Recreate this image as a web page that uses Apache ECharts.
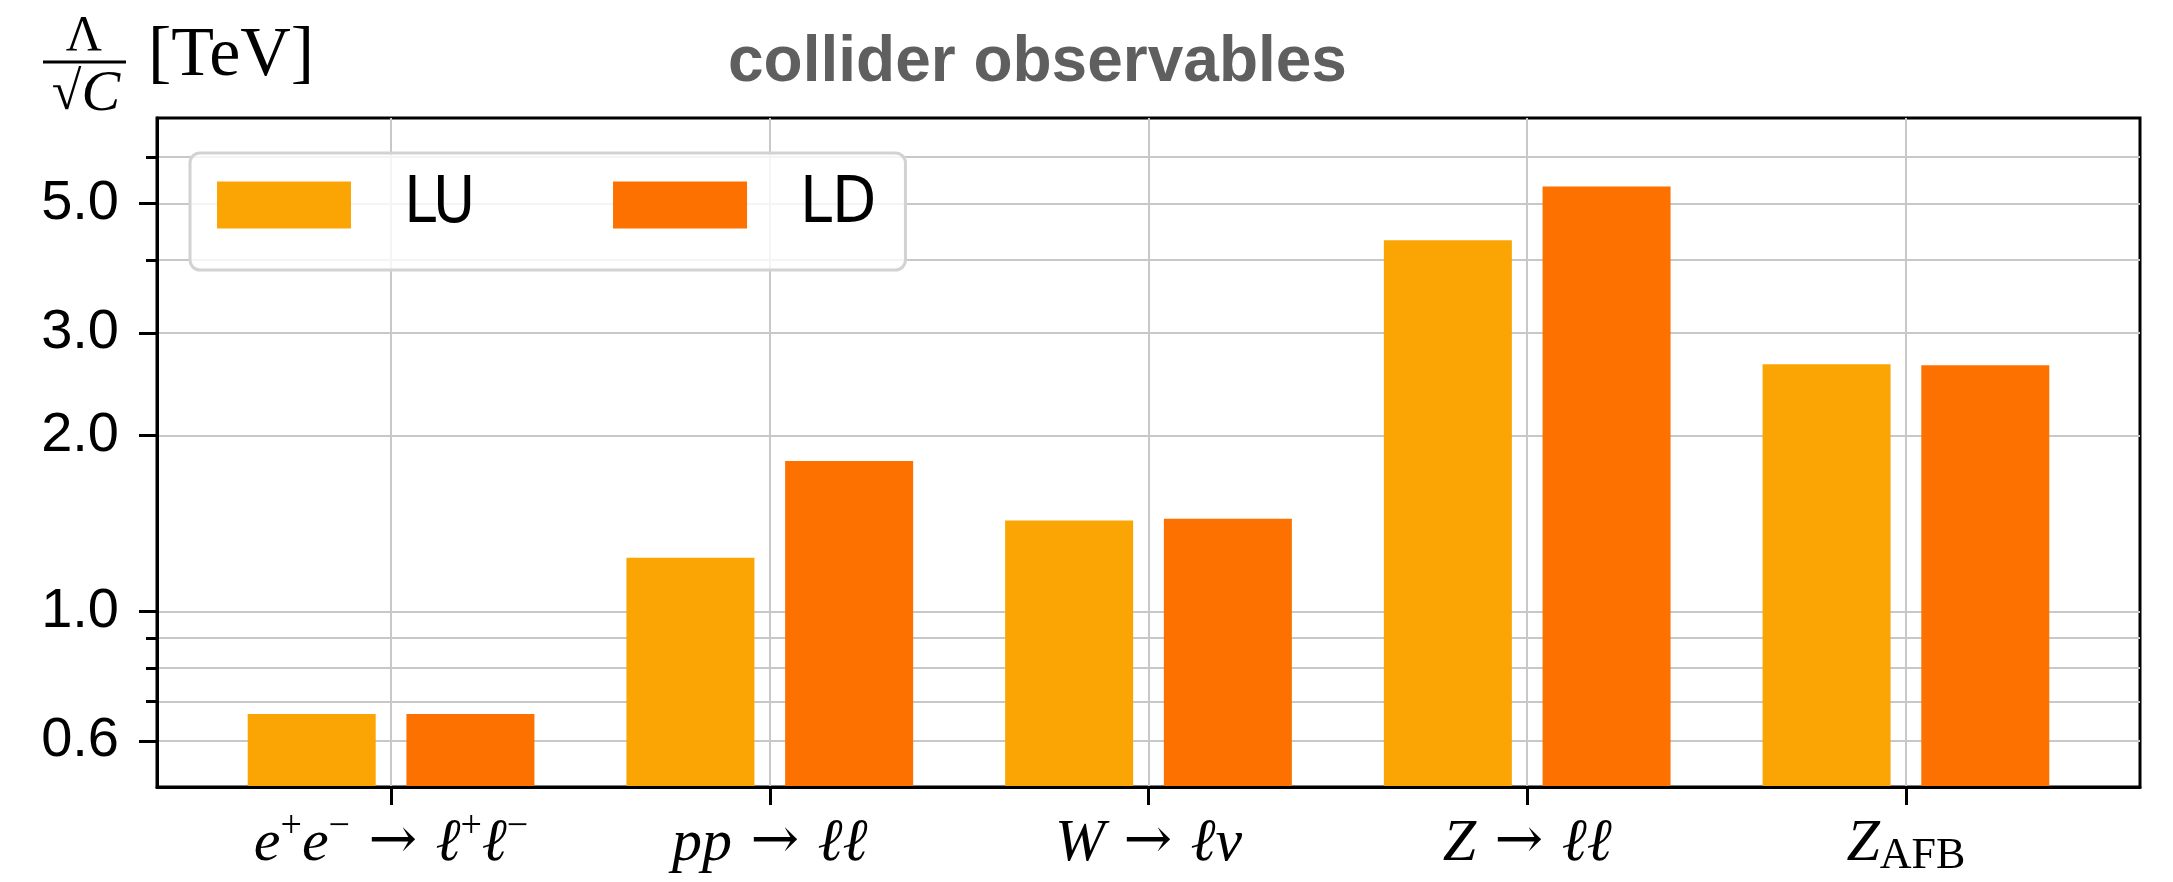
<!DOCTYPE html>
<html><head><meta charset="utf-8">
<script src="https://cdn.jsdelivr.net/npm/echarts@6/dist/echarts.min.js"></script>
<style>html,body{margin:0;padding:0;background:#fff}#c{width:2173px;height:882px}</style>
</head><body><div id="c"></div>
<script>
// ---- data ----
const categories = ['ee_ll', 'pp_ll', 'W_lnu', 'Z_ll', 'Z_AFB'];
const xTickLabels = [
  '{m|e}{s|+}{m|e}{s|−}{r| → }{m|ℓ}{s|+}{m|ℓ}{s|−}',
  '{m|pp}{r| → }{m|ℓℓ}',
  '{m|W}{r| → }{m|ℓν}',
  '{m|Z}{r| → }{m|ℓℓ}',
  '{m|Z}{b|AFB}'
];
const seriesNames = ['LU', 'LD'];
const luValues = [0.667, 1.235, 1.43, 4.32, 2.65];
const ldValues = [0.667, 1.81, 1.44, 5.34, 2.64];
const yMin = 0.5, yMax = 7.0;
const majorTicks = [0.6, 1, 2, 3, 5];
const gridValues = [0.6, 0.7, 0.8, 0.9, 1, 2, 3, 4, 5, 6];
const titleText = 'collider observables';

// ---- styles ----
const colors = ['#fba504', '#fc7100'];
const serif = '"Liberation Serif","DejaVu Serif",serif';
const sans = '"Liberation Sans","Helvetica",Arial,sans-serif';
const gridColor = '#c8c8c8';

const chart = echarts.init(document.getElementById('c'), null, {renderer: 'canvas'});

const option = {
  animation: false,
  backgroundColor: '#ffffff',
  title: {
    text: titleText, left: 728, top: 31, padding: 0,
    textStyle: {fontFamily: sans, fontWeight: 'bold', fontSize: 64, lineHeight: 64, color: '#5f5f5f'}
  },
  legend: {
    data: seriesNames, left: 190, top: 153, orient: 'horizontal',
    selectedMode: false, icon: 'rect', itemWidth: 134, itemHeight: 47, itemGap: 138,
    padding: [20, 29, 33, 27],
    backgroundColor: 'rgba(255,255,255,0.8)', borderColor: '#d2d2d2', borderWidth: 3, borderRadius: 10,
    textStyle: {fontFamily: '"Liberation Sans Narrow","DejaVu Sans Condensed","Liberation Sans",sans-serif',
      fontSize: 64, lineHeight: 60, color: '#000', padding: [0, 0, 0, 48]}
  },
  grid: [
    {left: 157, right: 33, top: 118, bottom: 95, show: true, borderColor: '#000', borderWidth: 3, backgroundColor: 'transparent'},
    {left: 201.7, right: 77.7, top: 118, bottom: 95}
  ],
  xAxis: [
    {gridIndex: 0, type: 'value', min: 0, max: 1, z: 5,
      axisLine: {show: true, lineStyle: {color: '#000', width: 3}},
      axisTick: {show: false}, axisLabel: {show: false}, splitLine: {show: false}},
    {gridIndex: 1, type: 'category', data: categories, boundaryGap: true,
      axisLine: {show: false},
      axisTick: {show: true, alignWithLabel: true, length: 18, lineStyle: {color: '#000', width: 3}},
      axisLabel: {
        margin: 21, color: '#000', interval: 0,
        formatter: (v, i) => xTickLabels[i],
        rich: {
          m: {fontFamily: serif, fontStyle: 'italic', fontSize: 60, lineHeight: 62, verticalAlign: 'top', padding: [6, 0, 0, 0], color: '#000'},
          r: {fontFamily: '"DejaVu Serif","Liberation Serif",serif', fontSize: 58, lineHeight: 62, verticalAlign: 'top', padding: [6, 0, 0, 0], color: '#000'},
          s: {fontFamily: serif, fontSize: 38, lineHeight: 20, verticalAlign: 'top', padding: [0, 0, 0, 0], color: '#000'},
          b: {fontFamily: serif, fontSize: 44, lineHeight: 24, verticalAlign: 'top', padding: [26, 0, 0, 0], color: '#000'}
        }
      },
      splitLine: {show: false}}
  ],
  yAxis: [
    {gridIndex: 0, type: 'log', logBase: 10, min: yMin, max: yMax, position: 'left', z: 5,
      axisLine: {show: true, lineStyle: {color: '#000', width: 3}},
      axisTick: {show: true, length: 11, customValues: gridValues, lineStyle: {color: '#000', width: 3}},
      axisLabel: {show: false}, splitLine: {show: false}, minorTick: {show: false}},
    {gridIndex: 0, type: 'log', logBase: 10, min: yMin, max: yMax, position: 'left', z: 5,
      axisLine: {show: false},
      axisTick: {show: true, length: 18, customValues: majorTicks, lineStyle: {color: '#000', width: 3}},
      axisLabel: {show: true, customValues: majorTicks, margin: 38, color: '#000',
        fontFamily: sans, fontSize: 56, formatter: v => Number(v).toFixed(1)},
      splitLine: {show: false}},
    {gridIndex: 1, type: 'log', logBase: 10, min: yMin, max: yMax, startValue: yMin, show: false,
      splitLine: {show: false}}
  ],
  series: [
    {type: 'line', name: 'hgrid', xAxisIndex: 0, yAxisIndex: 0, data: [], silent: true,
      markLine: {silent: true, z: 1, symbol: 'none', label: {show: false}, animation: false,
        lineStyle: {color: gridColor, width: 2, type: 'solid'},
        emphasis: {disabled: true},
        data: gridValues.map(v => ({yAxis: v}))}},
    {type: 'line', name: 'vgrid', xAxisIndex: 1, yAxisIndex: 2, data: [], silent: true,
      markLine: {silent: true, z: 1, symbol: 'none', label: {show: false}, animation: false,
        lineStyle: {color: gridColor, width: 2, type: 'solid'},
        emphasis: {disabled: true},
        data: categories.map(c => ({xAxis: c}))}},
    {type: 'bar', name: seriesNames[0], xAxisIndex: 1, yAxisIndex: 2, z: 2,
      barWidth: 128, barGap: '24%', itemStyle: {color: colors[0]}, data: luValues},
    {type: 'bar', name: seriesNames[1], xAxisIndex: 1, yAxisIndex: 2, z: 2,
      barWidth: 128, barGap: '24%', itemStyle: {color: colors[1]}, data: ldValues}
  ],
  graphic: [
    {type: 'text', x: 84, y: 37, style: {text: 'Λ', font: '50px ' + serif, align: 'center', verticalAlign: 'middle', fill: '#000'}},
    {type: 'line', shape: {x1: 43, y1: 62, x2: 126, y2: 62}, style: {stroke: '#000', lineWidth: 3}},
    {type: 'text', x: 86, y: 95, style: {text: '{s|√}{c|C}', align: 'center', verticalAlign: 'middle', fill: '#000',
      rich: {s: {fontFamily: serif, fontSize: 54, fill: '#000'}, c: {fontFamily: serif, fontStyle: 'italic', fontSize: 58, fill: '#000'}}}},
    {type: 'text', x: 148, y: 57, style: {text: '[TeV]', font: '70px ' + serif, align: 'left', verticalAlign: 'middle', fill: '#000'}}
  ]
};
chart.setOption(option);
</script>
</body></html>
